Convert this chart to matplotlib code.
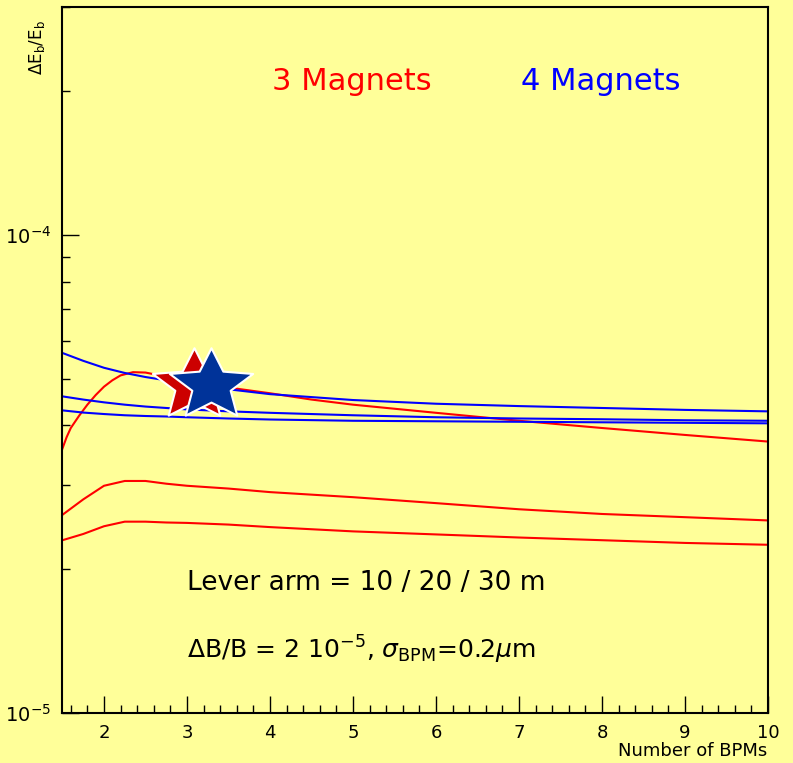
import matplotlib
matplotlib.use('Agg')
import matplotlib.pyplot as plt
from matplotlib.path import Path
from matplotlib.transforms import Affine2D

# values (units of 1e-5)
x_red_a = [1.5, 1.55, 1.6, 1.7, 1.8, 1.9, 2.0, 2.1, 2.2, 2.35, 2.5, 2.67, 3.0, 3.5, 4, 4.5, 5, 6, 7, 8, 9, 10]
red_a = [3.58, 3.78, 3.95, 4.19, 4.42, 4.63, 4.82, 4.97, 5.09, 5.17, 5.16, 5.09, 4.96, 4.80, 4.67, 4.53, 4.42, 4.25, 4.09, 3.95, 3.82, 3.70]

x_bpm = [1.5, 1.75, 2.0, 2.25, 2.5, 2.75, 3, 3.5, 4, 5, 6, 7, 8, 9, 10]
red_b = [2.60, 2.80, 2.99, 3.06, 3.06, 3.02, 2.99, 2.95, 2.90, 2.83, 2.75, 2.67, 2.61, 2.57, 2.53]
red_c = [2.30, 2.37, 2.46, 2.515, 2.515, 2.505, 2.50, 2.48, 2.45, 2.40, 2.365, 2.33, 2.30, 2.27, 2.25]
blue_a = [5.67, 5.46, 5.28, 5.15, 5.05, 4.97, 4.90, 4.76, 4.65, 4.52, 4.44, 4.39, 4.35, 4.31, 4.28]
blue_b = [4.60, 4.53, 4.47, 4.42, 4.38, 4.35, 4.32, 4.28, 4.25, 4.20, 4.16, 4.135, 4.12, 4.10, 4.09]
blue_c = [4.30, 4.255, 4.225, 4.20, 4.185, 4.175, 4.16, 4.135, 4.115, 4.09, 4.08, 4.07, 4.06, 4.05, 4.04]

def sc(v):
    return [a * 1e-5 for a in v]

bg = '#ffff99'
fig = plt.figure(figsize=(7.93, 7.63), dpi=100, facecolor=bg)
ax = fig.add_axes([0.0788, 0.0655, 0.8897, 0.9249], facecolor=bg)

lw = 1.5
ax.plot(x_red_a, sc(red_a), color='#ff0000', lw=lw)
ax.plot(x_bpm, sc(red_b), color='#ff0000', lw=lw)
ax.plot(x_bpm, sc(red_c), color='#ff0000', lw=lw)
ax.plot(x_bpm, sc(blue_a), color='#0000ff', lw=lw)
ax.plot(x_bpm, sc(blue_b), color='#0000ff', lw=lw)
ax.plot(x_bpm, sc(blue_c), color='#0000ff', lw=lw)

# logo: red and blue star
star = Path.unit_regular_star(5, 0.46).transformed(Affine2D().scale(1.0, 0.85))
ax.plot([3.08], [4.85e-5], marker=star, ms=60, color='#cc0000', mec='white', mew=1.5, zorder=5)
ax.plot([3.295], [4.85e-5], marker=star, ms=60, color='#003399', mec='white', mew=1.5, zorder=6)

ax.set_yscale('log')
ax.set_xlim(1.5, 10)
ax.set_ylim(1e-5, 3e-4)
ax.set_xticks([2, 3, 4, 5, 6, 7, 8, 9, 10])
ax.set_xticks([1.6 + 0.2 * i for i in range(43) if (1.6 + 0.2 * i) % 1 > 0.05 and (1.6 + 0.2 * i) % 1 < 0.95], minor=True)
ax.set_xticklabels(['2', '3', '4', '5', '6', '7', '8', '9', '10'])
ax.set_yticks([1e-5, 1e-4])
ax.set_yticklabels([r'$10^{-5}$', r'$10^{-4}$'])
ax.set_yticks([k * 1e-5 for k in range(2, 10)] + [2e-4, 3e-4], minor=True)
ax.yaxis.set_minor_formatter(plt.NullFormatter())
ax.tick_params(which='both', direction='in', top=False, right=False, width=1)
ax.tick_params(axis='x', labelsize=13)
ax.tick_params(axis='y', labelsize=14)
ax.tick_params(which='major', length=12, pad=8)
ax.tick_params(which='minor', length=6)
for s in ax.spines.values():
    s.set_linewidth(1.5)

fig.text(767 / 793, 1 - 751 / 763, 'Number of BPMs', ha='right', va='center', fontsize=13)
fig.text(37 / 793, 1 - 20 / 763, r'$\Delta$E$_{\rm b}$/E$_{\rm b}$', rotation=90,
         ha='center', va='top', fontsize=12)

fig.text(272 / 793, 1 - 82 / 763, '3 Magnets', color='#ff0000', fontsize=22, va='center')
fig.text(521 / 793, 1 - 82 / 763, '4 Magnets', color='#0000ff', fontsize=22, va='center')
fig.text(187 / 793, 1 - 583 / 763, 'Lever arm = 10 / 20 / 30 m', fontsize=19, va='center')
fig.text(187 / 793, 1 - 650 / 763, r'$\Delta$B/B = 2 10$^{-5}$, $\sigma_{\rm BPM}$=0.2$\mu$m',
         fontsize=18, va='center')

fig.savefig('out.png', dpi=100, facecolor=bg)
